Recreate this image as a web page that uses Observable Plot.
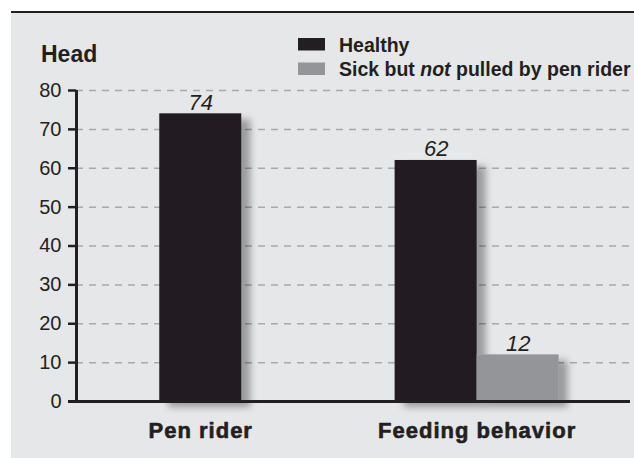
<!DOCTYPE html>
<html><head><meta charset="utf-8">
<script src="https://cdn.jsdelivr.net/npm/d3@7"></script>
<script src="https://cdn.jsdelivr.net/npm/@observablehq/plot@0.6"></script>
<style>
body{margin:0;background:#fff;}
#wrap{position:relative;width:634px;height:458px;overflow:hidden;font-family:"Liberation Sans",Arial,sans-serif;}
#panel{position:absolute;left:11px;top:11px;width:623px;height:447px;background:#e6e7e8;border-top:2px solid #231f20;box-sizing:border-box;}
#chart{position:absolute;left:0;top:0;}
</style></head><body>
<div id="wrap"><div id="panel"></div><div id="chart"></div></div>
<script>
// ---- data ----
const categories = ["Pen rider", "Feeding behavior"];
const seriesNames = ["Healthy", "Sick but not pulled by pen rider"];
const healthy = [74, 62];
const sick = [null, 12];
const yTicks = [0, 10, 20, 30, 40, 50, 60, 70, 80];
const yLabel = "Head";
const colors = ["#231f20", "#939598"];

// ---- layout in "bar width" units ----
const groupStep = 3.37;
const centers = categories.map((c, i) => i * groupStep);
const xDomain = [-1.515, 5.24];

const bars = [];
categories.forEach((c, i) => {
  const vals = [healthy[i], sick[i]];
  const present = vals.map((v, j) => ({v, j})).filter(o => o.v != null);
  present.forEach((o, k) => {
    const x1 = centers[i] - present.length / 2 + k;
    bars.push({category: c, series: seriesNames[o.j], value: o.v, x1, x2: x1 + 1, xc: x1 + 0.5});
  });
});

const ink = "#231f20";
const chart = Plot.plot({
  width: 634, height: 458,
  marginLeft: 76, marginRight: 4, marginTop: 90, marginBottom: 57,
  style: {background: "transparent", fontFamily: "'Liberation Sans', Arial, sans-serif", color: ink, overflow: "visible"},
  x: {type: "linear", domain: xDomain, axis: null},
  y: {domain: [0, 80], axis: null},
  color: {domain: seriesNames, range: colors},
  marks: [
    Plot.ruleY(yTicks.filter(d => d > 0), {stroke: "#a7a9ac", strokeWidth: 1.5, strokeDasharray: "7,6"}),
    Plot.rectY(bars, {x1: "x1", x2: "x2", y1: 0, y2: "value", fill: "series"}),
    Plot.ruleY([0], {stroke: ink, strokeWidth: 3, insetLeft: -8}),
    Plot.axisY({ticks: yTicks, tickSize: 8, tickPadding: 7, fontSize: 20, strokeWidth: 2.5, label: null, anchor: "left"}),
    Plot.ruleX([xDomain[0]], {y1: 0, y2: 80, stroke: ink, strokeWidth: 3}),
    Plot.text(bars, {x: "xc", y: "value", text: d => String(d.value), dy: -4, lineAnchor: "bottom", fontStyle: "italic", fontSize: 22, fill: ink}),
    Plot.text(categories, {x: (d, i) => centers[i], frameAnchor: "bottom", lineAnchor: "bottom", dy: 36, fontWeight: "bold", fontSize: 22, fill: ink, stroke: ink, strokeWidth: 0.6})
  ]
});
document.getElementById("chart").appendChild(chart);

const svg = d3.select(chart);
// drop shadow for bars
const defs = svg.insert("defs", ":first-child");
const f = defs.append("filter").attr("id", "barShadow").attr("x", "-30%").attr("y", "-30%").attr("width", "160%").attr("height", "160%");
f.append("feDropShadow").attr("dx", 9).attr("dy", 6).attr("stdDeviation", 3.5).attr("flood-color", "#000").attr("flood-opacity", 0.33);
svg.select('g[aria-label="rect"]').attr("filter", "url(#barShadow)");
// letter spacing for group labels
svg.selectAll('g[aria-label="text"]').filter((d, i, n) => i === 1).attr("letter-spacing", "1px");

// y label
svg.append("text").attr("x", 41).attr("y", 62).attr("text-anchor", "start").attr("font-weight", "bold").attr("font-size", 23).attr("fill", ink).text(yLabel);

// legend
const lg = svg.append("g").attr("text-anchor", "start").attr("font-weight", "bold").attr("font-size", 19.5).attr("fill", ink);
seriesNames.forEach((s, i) => {
  lg.append("rect").attr("x", 298).attr("y", 38 + i * 24.5).attr("width", 27).attr("height", 12.5).attr("fill", colors[i]);
  const t = lg.append("text").attr("x", 339).attr("y", 52 + i * 23.5);
  const parts = s.split(/( not )/);
  parts.forEach(p => {
    if (p === " not ") {
      t.append("tspan").text(" ");
      t.append("tspan").attr("font-style", "italic").text("not");
      t.append("tspan").text(" ");
    } else t.append("tspan").text(p);
  });
});
</script>
</body></html>
